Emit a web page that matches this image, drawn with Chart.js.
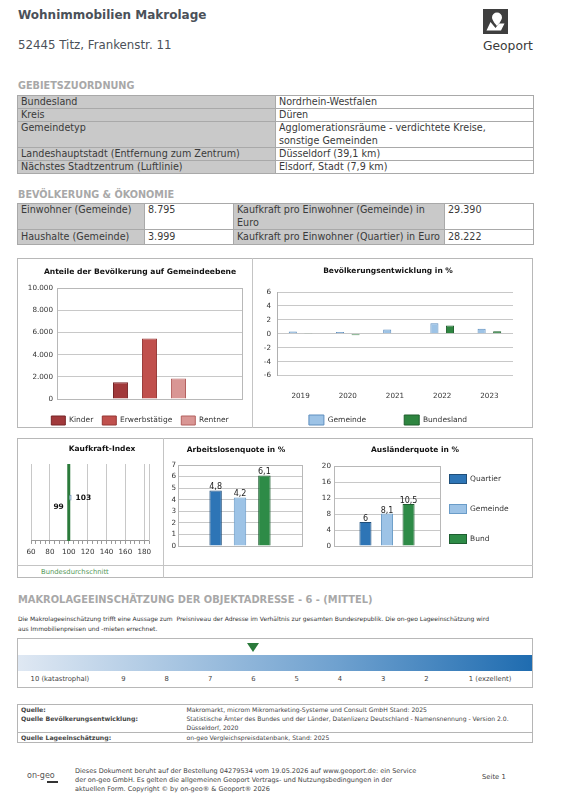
<!DOCTYPE html>
<html lang="de">
<head>
<meta charset="utf-8">
<title>Wohnimmobilien Makrolage</title>
<script src="https://cdn.jsdelivr.net/npm/chart.js@4.4.1/dist/chart.umd.min.js"></script>
<style>
  html, body { margin: 0; padding: 0; background: #fff; }
  body { position: relative; width: 563px; height: 807px; overflow: hidden;
         font-family: "DejaVu Sans", Verdana, sans-serif; color: #3a3a3a; }
  .abs { position: absolute; }
  .titel { left: 18px; top: 7px; font-size: 12px; line-height: 16px; font-weight: bold; color: #4b5159; }
  .adresse { left: 18px; top: 38px; font-size: 11.8px; line-height: 14px; color: #4b5159; }
  .logo { left: 483px; top: 9px; width: 25px; height: 25px; }
  .logo-text { left: 483px; top: 39px; font-size: 12.3px; line-height: 14px; color: #3a3a3a; }
  .rubrik { left: 18px; font-size: 9.7px; line-height: 12px; font-weight: bold; color: #a8a8a8; white-space: nowrap; }
  table.info { position: absolute; left: 17px; width: 516px; border-collapse: collapse; table-layout: fixed; font-size: 9.6px; }
  table.info td { border: 1px solid #a9a9a9; padding: 0 3px; line-height: 12px; height: 12px; vertical-align: top; white-space: nowrap; overflow: hidden; }
  table.info td.k { background: #c9c9c9; }
  table.info tr.zwei td { line-height: 12.5px; height: 25px; }
  table.info tr.hoch td { line-height: 14px; height: 14px; }
  .kasten { border: 1px solid #b8b8b8; box-sizing: border-box; }
  .linie { background: #c4c4c4; }
  canvas { position: absolute; }
  .lage-row { display: flex; width: 514px; }
  .lage-row div { flex: none; text-align: center; }
  .dreieck { display: inline-block; width: 0; height: 0; border-left: 6px solid transparent; border-right: 6px solid transparent; border-top: 9px solid #2b7a3b; vertical-align: top; }
  table.quelle { position: absolute; left: 17px; top: 704px; width: 516px; border-collapse: collapse; table-layout: fixed;
                 font-size: 6.1px; border: 1px solid #b5b5b5; color: #444; }
  table.quelle td { padding: 0 3px; line-height: 9px; vertical-align: top; white-space: nowrap; }
  table.quelle td.q { font-weight: bold; font-size: 6.2px; }
  table.quelle tr.sep td { border-bottom: 1px solid #b5b5b5; }
  .fuss { left: 75px; top: 767px; font-size: 6.5px; line-height: 9px; color: #444; white-space: nowrap; }
</style>
</head>
<body>

<div class="abs titel">Wohnimmobilien Makrolage</div>
<div class="abs adresse">52445 Titz, Frankenstr. 11</div>
<svg class="abs logo" viewBox="0 0 25 25">
  <rect width="25" height="25" fill="#3f3f3f"/>
  <path d="M14 3.5 a5 5 0 0 1 5 5 c0 3 -5 8.5 -5 8.5 c0 0 -5 -5.5 -5 -8.5 a5 5 0 0 1 5 -5z" fill="#fff"/>
  <path d="M3.5 21.5 L7.5 13 L12.5 19 L16 14.5 L21.5 14.5 L18 21.5z" fill="#fff"/>
</svg>
<div class="abs logo-text">Geoport</div>

<div class="abs rubrik" style="top:80px">GEBIETSZUORDNUNG</div>
<table class="info" style="top:95px">
  <colgroup><col style="width:258px"><col style="width:258px"></colgroup>
  <tr><td class="k">Bundesland</td><td>Nordrhein-Westfalen</td></tr>
  <tr><td class="k">Kreis</td><td>Düren</td></tr>
  <tr class="zwei"><td class="k">Gemeindetyp</td><td>Agglomerationsräume - verdichtete Kreise,<br>sonstige Gemeinden</td></tr>
  <tr><td class="k">Landeshauptstadt (Entfernung zum Zentrum)</td><td>Düsseldorf (39,1 km)</td></tr>
  <tr><td class="k">Nächstes Stadtzentrum (Luftlinie)</td><td>Elsdorf, Stadt (7,9 km)</td></tr>
</table>

<div class="abs rubrik" style="top:189px">BEVÖLKERUNG &amp; ÖKONOMIE</div>
<table class="info" style="top:203px">
  <colgroup><col style="width:127px"><col style="width:89px"><col style="width:211px"><col style="width:89px"></colgroup>
  <tr class="zwei"><td class="k">Einwohner (Gemeinde)</td><td>8.795</td><td class="k">Kaufkraft pro Einwohner (Gemeinde) in<br>Euro</td><td>29.390</td></tr>
  <tr class="hoch"><td class="k">Haushalte (Gemeinde)</td><td>3.999</td><td class="k">Kaufkraft pro Einwohner (Quartier) in Euro</td><td>28.222</td></tr>
</table>

<!-- Rahmen der Diagrammbereiche -->
<div class="abs kasten" style="left:17px;top:258px;width:516px;height:170px"></div>
<div class="abs linie" style="left:252px;top:258px;width:1px;height:170px"></div>
<div class="abs kasten" style="left:17px;top:438px;width:516px;height:140px"></div>
<div class="abs linie" style="left:17px;top:565px;width:516px;height:1px"></div>
<div class="abs linie" style="left:163px;top:438px;width:1px;height:140px"></div>
<div class="abs" style="left:41px;top:567px;font-size:6.8px;line-height:10px;color:#55995a">Bundesdurchschnitt</div>

<canvas id="bevChart" width="242" height="175" style="left:18px;top:260px"></canvas>
<canvas id="entwChart" width="272" height="207" style="left:258px;top:260px"></canvas>
<canvas id="kkChart" width="162" height="120" style="left:18px;top:440px"></canvas>
<canvas id="alqChart" width="148" height="114" style="left:162px;top:440px"></canvas>
<canvas id="auqChart" width="233" height="114" style="left:300px;top:440px"></canvas>

<div class="abs rubrik" style="top:594px;font-size:9.9px">MAKROLAGEEINSCHÄTZUNG DER OBJEKTADRESSE - 6 - (MITTEL)</div>
<div class="abs" style="left:18px;top:614px;font-size:6px;line-height:10px;color:#333;white-space:nowrap">Die Makrolageeinschätzung trifft eine Aussage zum&nbsp; Preisniveau der Adresse im Verhältnis zur gesamten Bundesrepublik. Die on-geo Lageeinschätzung wird<br>aus Immobilienpreisen und -mieten errechnet.</div>
<div class="abs kasten" style="left:17px;top:638px;width:516px;height:50px">
  <div id="lageMarker" class="lage-row abs" style="left:0;top:4px;height:10px"></div>
  <div class="abs" style="left:0;top:16px;width:514px;height:16px;background:linear-gradient(to right,#dfe8f3 0%,#a9c6e2 30%,#6fa1cf 62%,#1f6cb0 100%)"></div>
  <div id="lageLabels" class="lage-row abs" style="left:0;top:35px;font-size:6.8px;line-height:10px;color:#444"></div>
</div>

<table class="quelle">
  <colgroup><col style="width:166px"><col></colgroup>
  <tr><td class="q">Quelle:</td><td>Makromarkt, microm Mikromarketing-Systeme und Consult GmbH Stand: 2025</td></tr>
  <tr class="sep"><td class="q">Quelle Bevölkerungsentwicklung:</td><td>Statistische Ämter des Bundes und der Länder, Datenlizenz Deutschland - Namensnennung - Version 2.0.<br>Düsseldorf, 2020</td></tr>
  <tr><td class="q">Quelle Lageeinschätzung:</td><td>on-geo Vergleichspreisdatenbank, Stand: 2025</td></tr>
</table>

<div class="abs" style="left:27px;top:771px;font-size:8px;line-height:9px;color:#555">on<span style="color:#c0392b">-</span>geo</div>
<div class="abs" style="left:47px;top:781px;width:11px;height:2px;background:#333"></div>
<div class="abs fuss">Dieses Dokument beruht auf der Bestellung 04279534 vom 19.05.2026 auf www.geoport.de: ein Service<br>der on-geo GmbH. Es gelten die allgemeinen Geoport Vertrags- und Nutzungsbedingungen in der<br>aktuellen Form. Copyright © by on-geo® &amp; Geoport® 2026</div>
<div class="abs" style="left:482px;top:772px;font-size:6.8px;line-height:10px;color:#444">Seite 1</div>

<script>
// Bevölkerung auf Gemeindeebene
const bevLabels = ['Kinder', 'Erwerbstätige', 'Rentner'];
const bevValues = [1500, 5450, 1845];
const bevColors = ['#a1393b', '#c0504d', '#d99694'];
const bevBorders = ['#772527', '#943634', '#b3615f'];

// Bevölkerungsentwicklung in %
const jahre = ['2019', '2020', '2021', '2022', '2023'];
const entwGemeinde = [0.32, 0.24, 0.6, 1.5, 0.72];
const entwBundesland = [0.12, -0.2, -0.05, 1.2, 0.36];

// Kaufkraft-Index
const kaufkraftLabels = ['Gemeinde', 'Quartier'];
const kaufkraftValues = [103, 99];
const kaufkraftBasis = 100;
const kaufkraftTicks = [60, 80, 100, 120, 140, 160, 180];

// Quoten
const quoteLabels = ['Quartier', 'Gemeinde', 'Bund'];
const arbeitslosen = [4.8, 4.2, 6.1];
const auslaender = [6, 8.1, 10.5];
const quoteColors = ['#2e75b6', '#9dc3e6', '#2e8b47'];
const quoteBorders = ['#1f4e79', '#6a9cc8', '#1e5e30'];

// Makrolage
const lageStufen = ['10 (katastrophal)', '9', '8', '7', '6', '5', '4', '3', '2', '1 (exzellent)'];
const lageWert = 6;

Chart.defaults.font.family = '"DejaVu Sans", Verdana, sans-serif';
Chart.defaults.color = '#333';
Chart.defaults.animation = false;
Chart.defaults.events = [];
Chart.defaults.plugins.tooltip.enabled = false;

function deZahl(v) {
  return String(v).replace('.', ',').replace(/\B(?=(\d{3})+(?!\d))/g, '.');
}

const plotFrame = {
  id: 'plotFrame',
  beforeDatasetsDraw(chart, args, opts) {
    const a = chart.chartArea, ctx = chart.ctx;
    ctx.save();
    ctx.strokeStyle = opts.color || '#b8b8b8';
    ctx.lineWidth = 1;
    ctx.strokeRect(Math.round(a.left) + 0.5, Math.round(a.top) + 0.5,
                   Math.round(a.right - a.left), Math.round(a.bottom - a.top));
    ctx.restore();
  }
};

const legendShift = {
  id: 'legendShift',
  afterLayout(chart, args, opts) {
    const lg = chart.legend;
    if (!lg) return;
    const dx = opts.dx || 0, dy = opts.dy || 0;
    lg.left += dx; lg.right += dx;
    lg.top += dy; lg.bottom += dy;
  }
};

// Legende als Spalte rechts neben dem Diagramm (Chart.js begrenzt seitliche Legenden auf 1/4 der Breite)
const sideLegend = {
  id: 'sideLegend',
  afterDraw(chart, args, opts) {
    const ctx = chart.ctx, a = chart.chartArea;
    ctx.save();
    ctx.font = opts.font;
    ctx.textBaseline = 'middle';
    ctx.textAlign = 'left';
    ctx.lineWidth = 1;
    chart.data.datasets.forEach((ds, i) => {
      const x = Math.round(a.right + opts.gap);
      const y = Math.round(a.top + opts.first + i * opts.step);
      ctx.fillStyle = ds.backgroundColor;
      ctx.fillRect(x, y - 5, 18, 10);
      ctx.strokeStyle = ds.borderColor;
      ctx.strokeRect(x + 0.5, y - 4.5, 17, 9);
      ctx.fillStyle = opts.color;
      ctx.fillText(ds.label, x + 21, y);
    });
    ctx.restore();
  }
};

const valueLabels = {
  id: 'valueLabels',
  afterDatasetsDraw(chart, args, opts) {
    const ctx = chart.ctx;
    ctx.save();
    ctx.font = opts.font;
    ctx.fillStyle = opts.color || '#222';
    chart.data.datasets.forEach((ds, di) => {
      chart.getDatasetMeta(di).data.forEach((bar, i) => {
        const v = ds.data[i];
        const text = deZahl(v);
        if (chart.options.indexAxis === 'y') {
          const links = v < (ds.base !== undefined ? ds.base : 0);
          ctx.textAlign = links ? 'right' : 'left';
          ctx.textBaseline = 'middle';
          ctx.fillText(text, bar.x + (links ? -4 : 4), bar.y);
        } else {
          ctx.textAlign = 'center';
          ctx.textBaseline = 'alphabetic';
          ctx.fillText(text, bar.x, bar.y - 1);
        }
      });
    });
    ctx.restore();
  }
};

const basisLinie = {
  id: 'basisLinie',
  beforeDatasetsDraw(chart, args, opts) {
    const x = chart.scales.x.getPixelForValue(opts.value);
    const a = chart.chartArea, ctx = chart.ctx;
    ctx.save();
    ctx.strokeStyle = opts.color;
    ctx.lineWidth = 3;
    ctx.beginPath();
    ctx.moveTo(x, a.top);
    ctx.lineTo(x, a.bottom);
    ctx.stroke();
    ctx.restore();
  }
};

// Anteile der Bevölkerung auf Gemeindeebene
new Chart(document.getElementById('bevChart'), {
  type: 'bar',
  data: {
    labels: [''],
    datasets: bevLabels.map((name, i) => ({
      label: name,
      data: [bevValues[i]],
      backgroundColor: bevColors[i],
      borderColor: bevBorders[i],
      borderWidth: 1,
      categoryPercentage: 0.47,
      barPercentage: 0.52
    }))
  },
  options: {
    responsive: false,
    layout: { padding: { left: 2, right: 0, top: 0, bottom: 0 } },
    plugins: {
      title: { display: true, text: 'Anteile der Bevölkerung auf Gemeindeebene', color: '#111',
               font: { size: 7.6, weight: 'bold' }, padding: { top: 7, bottom: 12 } },
      legend: { position: 'bottom',
                labels: { boxWidth: 14, boxHeight: 9, padding: 9, color: '#333', font: { size: 7.5 } } },
      plotFrame: { color: '#b8b8b8' }
    },
    scales: {
      x: { grid: { display: false }, ticks: { display: false }, border: { display: false } },
      y: {
        min: 0, max: 10000,
        ticks: { stepSize: 2000, autoSkip: false, callback: v => deZahl(v), font: { size: 7.2 }, padding: 4 },
        grid: { color: '#c8c8c8', drawTicks: false },
        border: { display: false },
        afterFit: s => { s.width = 37; }
      },
      rand: {
        type: 'linear', position: 'right',
        ticks: { display: false }, grid: { display: false }, border: { display: false },
        afterFit: s => { s.width = 18; }
      }
    }
  },
  plugins: [plotFrame]
});

// Bevölkerungsentwicklung in %
new Chart(document.getElementById('entwChart'), {
  type: 'bar',
  data: {
    labels: jahre,
    datasets: [
      { label: 'Gemeinde', data: entwGemeinde, backgroundColor: '#9dc3e6', borderColor: '#5f8fbf',
        borderWidth: 1, categoryPercentage: 0.66, barPercentage: 0.52 },
      { label: 'Bundesland', data: entwBundesland, backgroundColor: '#2e8540', borderColor: '#1f5f2d',
        borderWidth: 1, categoryPercentage: 0.66, barPercentage: 0.52 }
    ]
  },
  options: {
    responsive: false,
    layout: { padding: { left: 5, right: 17, top: 0, bottom: 0 } },
    plugins: {
      title: { display: true, text: 'Bevölkerungsentwicklung in %', color: '#111',
               font: { size: 7.5, weight: 'bold' }, padding: { top: 7, bottom: 16 } },
      legend: { position: 'bottom',
                labels: { boxWidth: 15, boxHeight: 10, padding: 38, color: '#333', font: { size: 7.5 } } },
      legendShift: { dy: -32 }
    },
    scales: {
      x: { grid: { display: false }, border: { display: false },
           ticks: { font: { size: 7.2 }, padding: 8.4 } },
      y: {
        min: -6, max: 6,
        ticks: { stepSize: 2, autoSkip: false, font: { size: 7.2 }, padding: 6 },
        grid: { color: '#c8c8c8', drawTicks: false },
        border: { color: '#b0b0b0' },
        afterFit: s => { s.width = 14; }
      }
    }
  },
  plugins: [legendShift]
});

// Kaufkraft-Index
const kkMinor = [];
for (let v = 60; v <= 185; v += 5) kkMinor.push(v);

new Chart(document.getElementById('kkChart'), {
  type: 'bar',
  data: {
    labels: ['Kaufkraft-Index'],
    datasets: kaufkraftLabels.map((name, i) => ({
      label: name,
      data: [kaufkraftValues[i]],
      base: kaufkraftBasis,
      backgroundColor: '#a9c9e8',
      borderColor: '#6f8fae',
      borderWidth: 1,
      categoryPercentage: 0.25,
      barPercentage: 0.6
    }))
  },
  options: {
    responsive: false,
    indexAxis: 'y',
    layout: { padding: { left: 13, right: 7, top: 0, bottom: 0 } },
    plugins: {
      title: { display: true, text: 'Kaufkraft-Index', color: '#111',
               font: { size: 7.5, weight: 'bold' }, padding: { top: 4.5, bottom: 10.5 } },
      legend: { display: false },
      basisLinie: { value: kaufkraftBasis, color: '#2b7a3b' },
      valueLabels: { font: 'bold 7.5px "DejaVu Sans"', color: '#111' }
    },
    scales: {
      x: {
        type: 'linear', min: 60, max: 185,
        afterBuildTicks: axis => { axis.ticks = kkMinor.map(v => ({ value: v })); },
        ticks: { autoSkip: false, maxRotation: 0, padding: 3.7, font: { size: 7.2 },
                 callback: v => kaufkraftTicks.includes(v) ? String(v) : '' },
        grid: {
          color: ctx => (ctx.tick && kaufkraftTicks.includes(ctx.tick.value)) ? '#c8c8c8' : 'rgba(0,0,0,0)',
          tickColor: '#999', tickLength: 3
        },
        border: { color: '#999' }
      },
      y: {
        position: 'right',
        ticks: { display: false }, grid: { display: false },
        border: { color: '#c8c8c8' },
        afterFit: s => { s.width = 24; }
      }
    }
  },
  plugins: [basisLinie, valueLabels]
});

// Arbeitslosenquote in %
new Chart(document.getElementById('alqChart'), {
  type: 'bar',
  data: {
    labels: [''],
    datasets: quoteLabels.map((name, i) => ({
      label: name,
      data: [arbeitslosen[i]],
      backgroundColor: quoteColors[i],
      borderColor: quoteBorders[i],
      borderWidth: 1,
      categoryPercentage: 0.59,
      barPercentage: 0.51
    }))
  },
  options: {
    responsive: false,
    layout: { padding: { left: 8, right: 8, top: 0, bottom: 0 } },
    plugins: {
      title: { display: true, text: 'Arbeitslosenquote in %', color: '#111',
               font: { size: 7.5, weight: 'bold' }, padding: { top: 5.5, bottom: 10.5 } },
      legend: { display: false },
      plotFrame: { color: '#b8b8b8' },
      valueLabels: { font: '8px "DejaVu Sans"', color: '#222' }
    },
    scales: {
      x: { grid: { display: false }, ticks: { display: false }, border: { display: false } },
      y: {
        min: 0, max: 7,
        ticks: { stepSize: 1, autoSkip: false, font: { size: 7.2 }, padding: 2 },
        grid: { color: '#c8c8c8', drawTicks: false },
        border: { display: false },
        afterFit: s => { s.width = 8; }
      }
    }
  },
  plugins: [plotFrame, valueLabels]
});

// Ausländerquote in %
new Chart(document.getElementById('auqChart'), {
  type: 'bar',
  data: {
    labels: [''],
    datasets: quoteLabels.map((name, i) => ({
      label: name,
      data: [auslaender[i]],
      backgroundColor: quoteColors[i],
      borderColor: quoteBorders[i],
      borderWidth: 1,
      categoryPercentage: 0.61,
      barPercentage: 0.56
    }))
  },
  options: {
    responsive: false,
    layout: { padding: { left: 0, right: 3, top: 0, bottom: 0 } },
    plugins: {
      title: { display: true, text: 'Ausländerquote in %', color: '#111',
               font: { size: 7.5, weight: 'bold' }, padding: { top: 5.5, bottom: 11.5 } },
      legend: { display: false },
      sideLegend: { font: '7.5px "DejaVu Sans"', color: '#333', gap: 9, first: 13, step: 30 },
      plotFrame: { color: '#b8b8b8' },
      valueLabels: { font: '8px "DejaVu Sans"', color: '#222' }
    },
    scales: {
      x: { grid: { display: false }, ticks: { display: false }, border: { display: false } },
      y: {
        min: 0, max: 20,
        ticks: { stepSize: 4, autoSkip: false, font: { size: 7.2 }, padding: 3 },
        grid: { color: '#c8c8c8', drawTicks: false },
        border: { display: false },
        afterFit: s => { s.width = 34; }
      },
      rand: {
        type: 'linear', position: 'right',
        ticks: { display: false }, grid: { display: false }, border: { display: false },
        afterFit: s => { s.width = 90; }
      }
    }
  },
  plugins: [plotFrame, valueLabels, sideLegend]
});

// Skala der Makrolageeinschätzung
const lageBreiten = lageStufen.map((s, i) => (i === 0 || i === lageStufen.length - 1) ? 83.8 : 43.3);
const marker = document.getElementById('lageMarker');
const labels = document.getElementById('lageLabels');
lageStufen.forEach((stufe, i) => {
  const m = document.createElement('div');
  m.style.width = lageBreiten[i] + 'px';
  if (parseInt(stufe, 10) === lageWert) {
    const d = document.createElement('span');
    d.className = 'dreieck';
    m.appendChild(d);
  }
  marker.appendChild(m);
  const l = document.createElement('div');
  l.style.width = lageBreiten[i] + 'px';
  l.textContent = stufe;
  labels.appendChild(l);
});
</script>
</body>
</html>
